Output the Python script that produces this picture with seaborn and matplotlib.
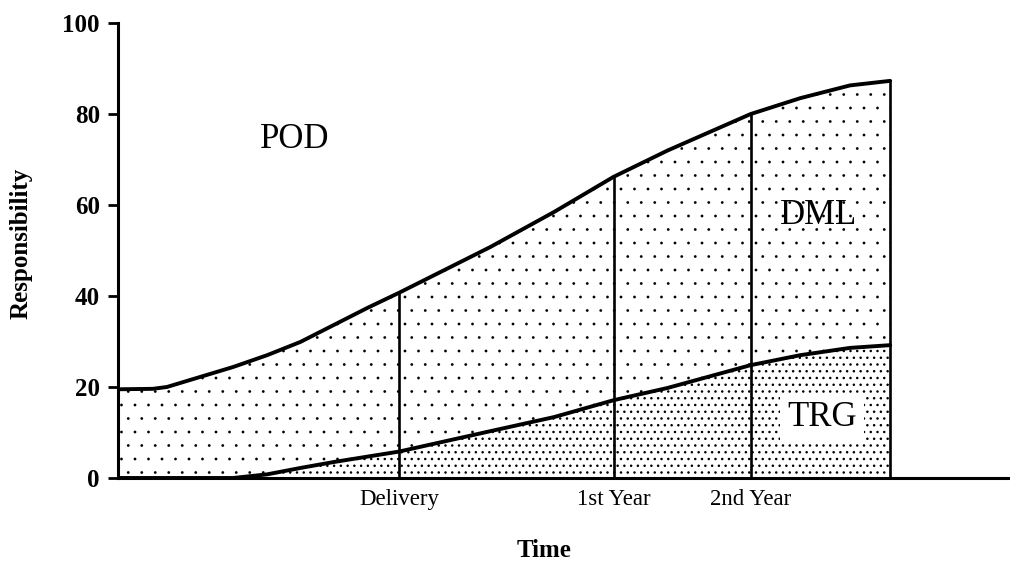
import numpy as np
import matplotlib
matplotlib.use("Agg")
import matplotlib.pyplot as plt
import seaborn as sns

# values (time axis in arbitrary units 0..102)
time = [0, 4.0, 5.6, 9.4, 13.2, 17.1, 20.9, 24.7, 28.6, 32.2, 42.7, 50.0, 56.8, 63.0, 72.5, 78.2, 83.9, 88.5]
total = [19.5, 19.6, 20.0, 22.2, 24.4, 27.0, 29.9, 33.6, 37.4, 40.7, 50.8, 58.5, 66.2, 72.0, 80.0, 83.5, 86.3, 87.3]
trg = [0, 0, 0, 0, 0, 0.8, 2.2, 3.5, 4.7, 5.8, 10.3, 13.4, 17.1, 19.8, 24.8, 27.0, 28.6, 29.2]

milestones = [32.2, 56.8, 72.5, 88.5]
milestone_labels = ["Delivery", "1st Year", "2nd Year", ""]
y_ticks = [0, 20, 40, 60, 80, 100]

# saved at dpi 81 so the hatch dots get the spacing of the original;
# sizes in points are scaled to keep the same pixel sizes
DPI = 81
S = 100 / DPI

sns.set_style("ticks")
plt.rcParams["font.family"] = ["Liberation Serif", "DejaVu Serif"]
plt.rcParams["text.color"] = "black"
plt.rcParams["axes.labelcolor"] = "black"
plt.rcParams["xtick.color"] = "black"
plt.rcParams["ytick.color"] = "black"
plt.rcParams["axes.edgecolor"] = "black"
plt.rcParams["hatch.color"] = "black"

fig = plt.figure(figsize=(1010 / DPI, 563 / DPI), dpi=DPI)
ax = fig.add_axes([0.1168, 0.151, 0.8812, 0.808])

# shaded areas: DML sparse dots, TRG dense dots
with plt.rc_context({"hatch.linewidth": 0.05}):
    ax.fill_between(time, trg, total, facecolor="white", edgecolor="black",
                    hatch=".", linewidth=0)
with plt.rc_context({"hatch.linewidth": 1.0}):
    ax.fill_between(time, 0, trg, facecolor="white", edgecolor="black",
                    hatch="..", linewidth=0)

# boundary curves
sns.lineplot(x=time, y=total, ax=ax, color="black", linewidth=2.8 * S, estimator=None)
sns.lineplot(x=time, y=trg, ax=ax, color="black", linewidth=2.8 * S, estimator=None)

# milestone lines up to the top curve
heights = np.interp(milestones, time, total)
ax.vlines(milestones, 0, heights, color="black", linewidth=1.9 * S)

ax.text(20.3, 74.3, "POD", fontsize=25 * S, ha="center", va="center")
ax.text(80.3, 57.6, "DML", fontsize=25 * S, ha="center", va="center")
ax.text(80.7, 13.2, "TRG", fontsize=25 * S, ha="center", va="center",
        bbox=dict(boxstyle="square,pad=0.2", facecolor="white", edgecolor="none"))

ax.set_xlim(0, 102)
ax.set_ylim(0, 100)
ax.set_yticks(y_ticks)
ax.set_yticklabels([str(v) for v in y_ticks], fontsize=18 * S, fontweight="bold")
ax.set_xticks(milestones)
ax.set_xticklabels(milestone_labels, fontsize=16.5 * S)
ax.tick_params(axis="y", length=7 * S, width=2 * S, pad=6 * S, direction="out")
ax.tick_params(axis="x", length=0, pad=8 * S)

ax.set_xlabel("Time", fontsize=18 * S, fontweight="bold")
ax.set_ylabel("Responsibility", fontsize=18 * S, fontweight="bold")
ax.xaxis.set_label_coords(0.479, -0.135)
ax.yaxis.set_label_coords(-0.0955, 0.516)

sns.despine(ax=ax)
ax.spines["left"].set_linewidth(2.2 * S)
ax.spines["bottom"].set_linewidth(2.2 * S)

fig.savefig("out.png", dpi=DPI)
